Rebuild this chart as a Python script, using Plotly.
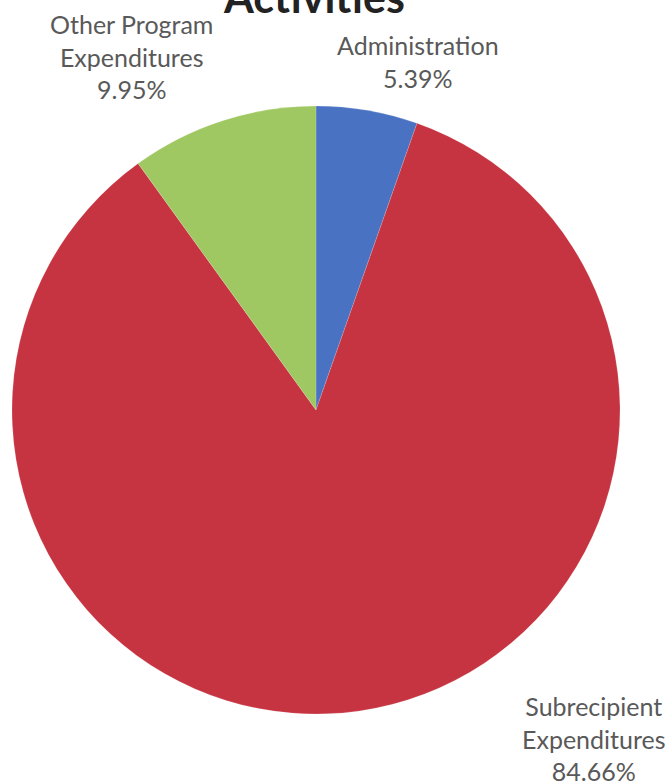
import plotly.graph_objects as go

# Data
categories = ["Administration", "Subrecipient Expenditures", "Other Program Expenditures"]
label_lines = [["Administration"], ["Subrecipient", "Expenditures"], ["Other Program", "Expenditures"]]
percentages = [5.39, 84.66, 9.95]
title_text = "Activities"

colors = ["#4A72C2", "#C63441", "#A0C862"]

W, H = 667, 784
ML, MR, MT, MB = 12, 47, 105, 69
PW, PH = W - ML - MR, H - MT - MB

def px_to_paper(x, y):
    return (x - ML) / PW, (H - MB - y) / PH

# label block centres (pixel) - layout only
label_pos = [(418, 62), (594, 738), (131, 56)]

fig = go.Figure(go.Pie(
    labels=categories,
    values=percentages,
    sort=False,
    direction="clockwise",
    rotation=0,
    marker=dict(colors=colors, line=dict(color="rgba(255,255,255,0.3)", width=0.5)),
    textinfo="none",
    hoverinfo="label+percent",
    showlegend=False,
    domain=dict(x=[0, 1], y=[0, 1]),
))

annotations = []
for lines, pct, (px, py) in zip(label_lines, percentages, label_pos):
    xp, yp = px_to_paper(px, py)
    annotations.append(dict(
        x=xp, y=yp, xref="paper", yref="paper",
        text="<br>".join(lines + [f"{pct:.2f}%"]),
        showarrow=False, xanchor="center", yanchor="middle",
        font=dict(family="Lato", size=25, color="#595959"),
    ))

tx, ty = px_to_paper(314, -3)
annotations.append(dict(
    x=tx, y=ty, xref="paper", yref="paper",
    text=f"<b>{title_text}</b>", showarrow=False,
    xanchor="center", yanchor="middle",
    font=dict(family="Lato", size=43, color="#222222"),
))

fig.update_layout(
    width=W, height=H,
    margin=dict(l=ML, r=MR, t=MT, b=MB, pad=0),
    paper_bgcolor="white", plot_bgcolor="white",
    annotations=annotations,
)

fig.write_html("out.html", config={"displayModeBar": False},
               post_script="document.body.style.margin='0';")
